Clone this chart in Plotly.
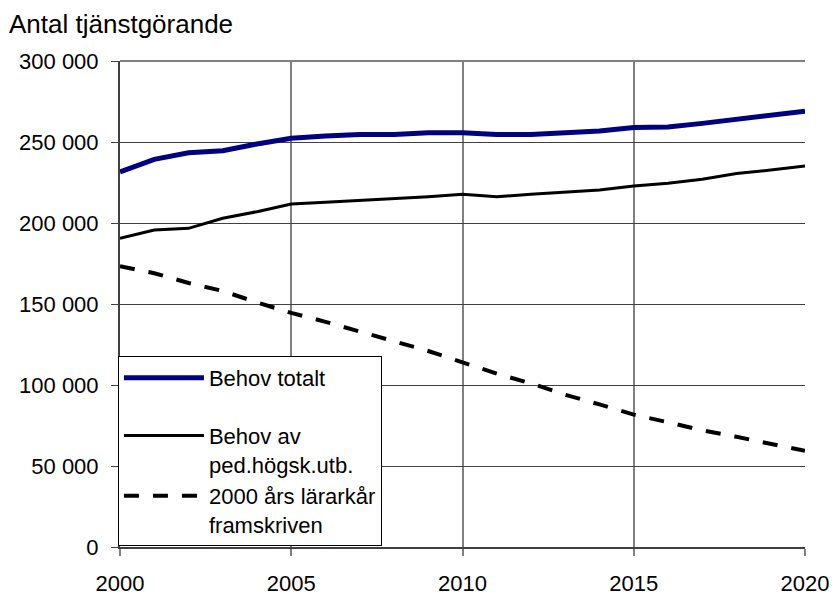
import plotly.graph_objects as go

years = list(range(2000, 2021))
behov_totalt = [231500, 239300, 243400, 244600, 248800, 252300, 253700, 254700, 254600, 255700,
                255700, 254600, 254600, 255500, 256800, 259000, 259200, 261500, 264000, 266500, 269000]
behov_ped = [190500, 195700, 196700, 202900, 207000, 211700, 212800, 213800, 214800, 216200,
             217700, 216200, 217700, 219000, 220400, 222800, 224500, 227000, 230600, 232700, 235200]
larark = [173300, 169000, 163000, 158000, 151000, 144500, 139000, 133000, 127000, 121000,
          114000, 107000, 101000, 94000, 88000, 81700, 77000, 72000, 68000, 63500, 59400]
names = ["Behov totalt", "Behov av<br>ped.högsk.utb.", "2000 års lärarkår<br>framskriven"]
y_ticks = [0, 50000, 100000, 150000, 200000, 250000, 300000]
y_labels = ["0", "50 000", "100 000", "150 000", "200 000", "250 000", "300 000"]
x_ticks = [2000, 2005, 2010, 2015, 2020]

FONT = "Liberation Sans, Arial, sans-serif"

fig = go.Figure()
fig.add_trace(go.Scatter(x=years, y=behov_totalt, mode="lines", name=names[0],
                         line=dict(color="#000080", width=5), legendgroup="a"))
fig.add_trace(go.Scatter(x=years, y=behov_ped, mode="lines", name=names[1],
                         line=dict(color="#000000", width=3), legendgroup="b"))
fig.add_trace(go.Scatter(x=years, y=larark, mode="lines", name=names[2],
                         line=dict(color="#000000", width=4, dash="15px,14px"), legendgroup="b"))

fig.update_layout(
    width=835, height=595,
    margin=dict(l=120, r=30, t=61, b=48),
    paper_bgcolor="white", plot_bgcolor="white",
    font=dict(family=FONT, size=22, color="black"),
    showlegend=True,
    legend=dict(x=-0.003, y=0.002, xanchor="left", yanchor="bottom",
                bgcolor="white", bordercolor="black", borderwidth=1,
                font=dict(family=FONT, size=22, color="black"),
                valign="top", tracegroupgap=26, itemwidth=80,
                traceorder="grouped"),
    xaxis=dict(range=[2000, 2020], tickvals=x_ticks, showgrid=True, gridcolor="#808080",
               gridwidth=2, showline=True, linecolor="#404040", linewidth=2,
               ticks="outside", ticklen=7, tickcolor="#808080", tickwidth=2,
               ticklabelstandoff=9, zeroline=False, fixedrange=True, automargin=False),
    yaxis=dict(range=[0, 300000], tickvals=y_ticks, ticktext=y_labels, showgrid=True,
               gridcolor="#404040", gridwidth=1, showline=True, linecolor="#404040",
               linewidth=2, ticks="outside", ticklen=7, tickcolor="#404040",
               ticklabelstandoff=8, zeroline=False, fixedrange=True, automargin=False),
    shapes=[dict(type="line", xref="paper", yref="paper", x0=0, x1=1, y0=1, y1=1,
                 line=dict(color="#808080", width=2), layer="above")],
    annotations=[dict(text="Antal tjänstgörande", xref="paper", yref="paper",
                      x=-0.165, y=1.0, xanchor="left", yanchor="bottom", yshift=20,
                      showarrow=False, font=dict(family=FONT, size=26, color="black"))],
)

fig.write_html("out.html", config={"displayModeBar": False},
               post_script="document.body.style.margin='0';document.body.style.overflow='hidden';")
